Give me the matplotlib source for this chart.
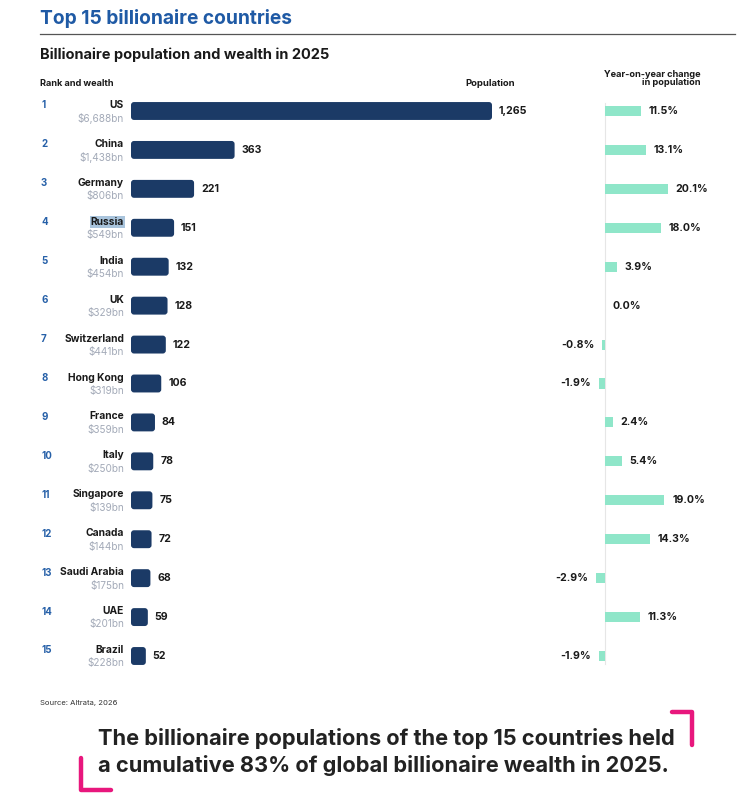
import matplotlib
matplotlib.use("Agg")
import matplotlib.pyplot as plt
import matplotlib.transforms as mtransforms
from matplotlib.patches import FancyBboxPatch
from matplotlib.lines import Line2D

plt.rcParams['font.family'] = ['Inter', 'DejaVu Sans']

# data
countries = ['US', 'China', 'Germany', 'Russia', 'India', 'UK', 'Switzerland',
             'Hong Kong', 'France', 'Italy', 'Singapore', 'Canada',
             'Saudi Arabia', 'UAE', 'Brazil']
wealth = ['$6,688bn', '$1,438bn', '$806bn', '$549bn', '$454bn', '$329bn',
          '$441bn', '$319bn', '$359bn', '$250bn', '$139bn', '$144bn',
          '$175bn', '$201bn', '$228bn']
population = [1265, 363, 221, 151, 132, 128, 122, 106, 84, 78, 75, 72, 68, 59, 52]
yoy_change = [11.5, 13.1, 20.1, 18.0, 3.9, 0.0, -0.8, -1.9, 2.4, 5.4,
              19.0, 14.3, -2.9, 11.3, -1.9]

NAVY = '#1b3a66'
MINT = '#8fe6c9'
BLUE = '#2660a8'
DARK = '#1a1a1a'
GREY = '#a3aab8'
PINK = '#e8177d'

W, H = 753, 800


def fx(x):
    return x / W


def fy(y):
    return 1 - y / H


fig = plt.figure(figsize=(W / 100, H / 100), dpi=100)

# rows: centre of first row at 111px, last at 656px
step = (656 - 111) / 14
top_px = 111 - step / 2
bot_px = 656 + step / 2

# population panel: 0 at 131px, 1265 at 492px
px_per_unit = (492 - 131) / 1265
pop_max = 2000
ax = fig.add_axes([fx(131), fy(bot_px), pop_max * px_per_unit / W,
                   (bot_px - top_px) / H])
# yoy panel: 0 at 605px, 3.13px per %
yoy_scale = 3.13
yoy_lo, yoy_hi = -5, 30
ax2 = fig.add_axes([fx(605 + yoy_lo * yoy_scale), fy(bot_px),
                    (yoy_hi - yoy_lo) * yoy_scale / W, (bot_px - top_px) / H])

rows = list(range(len(countries)))

bars = ax.barh(rows, population, height=0.46, color=NAVY, alpha=0)
ax.bar_label(bars, labels=[f'{v:,}' for v in population], padding=5,
             fontsize=7.6, fontweight='bold', color=DARK)
# rounded versions of the bars
r_px = 3.0
for b in bars:
    rx = r_px / px_per_unit
    aspect = (r_px / step) / rx
    ax.add_patch(FancyBboxPatch((b.get_x(), b.get_y()), b.get_width(), b.get_height(),
                                boxstyle=f'round,pad=0,rounding_size={rx}',
                                mutation_aspect=aspect, fc=NAVY, ec='none'))
ax.set_xlim(0, pop_max)
ax.set_ylim(len(rows) - 0.5, -0.5)
ax.axis('off')

bars2 = ax2.barh(rows, yoy_change, height=0.26, color=MINT)
ax2.bar_label(bars2, labels=[f'{v:.1f}%' for v in yoy_change], padding=5.5,
              fontsize=7.6, fontweight='bold', color=DARK)
ax2.axvline(0, ymin=0.02, ymax=0.98, color='#e6e6e6', lw=0.8, zorder=0)
ax2.set_xlim(yoy_lo, yoy_hi)
ax2.set_ylim(len(rows) - 0.5, -0.5)
ax2.axis('off')

# row labels
trans = mtransforms.blended_transform_factory(fig.transFigure, ax.transData)
for i, (c, w) in enumerate(zip(countries, wealth)):
    ax.annotate(str(i + 1), xy=(fx(41), i), xycoords=trans, xytext=(0, 4),
                textcoords='offset points', ha='left', va='center',
                fontsize=7, fontweight='bold', color=BLUE)
    box = dict(facecolor='#a9c4dc', edgecolor='none', pad=0.6) if c == 'Russia' else None
    ax.annotate(c, xy=(fx(124), i), xycoords=trans, xytext=(0, 4.3),
                textcoords='offset points', ha='right', va='center',
                fontsize=7.4, fontweight='bold', color=DARK, bbox=box)
    ax.annotate(w, xy=(fx(124), i), xycoords=trans, xytext=(0, -5.3),
                textcoords='offset points', ha='right', va='center',
                fontsize=7.2, color=GREY)

# titles and headers
fig.text(fx(40), fy(18), 'Top 15 billionaire countries', fontsize=13.8,
         fontweight='bold', color='#1f5aa5', va='center', ha='left')
fig.add_artist(Line2D([fx(40), fx(735)], [fy(34), fy(34)], color='#555555', lw=0.9))
fig.text(fx(40), fy(55), 'Billionaire population and wealth in 2025', fontsize=10.5,
         fontweight='bold', color=DARK, va='center', ha='left')
fig.text(fx(40), fy(83), 'Rank and wealth', fontsize=6.6, fontweight='bold',
         color=DARK, va='center', ha='left')
fig.text(fx(490), fy(83), 'Population', fontsize=6.8, fontweight='bold',
         color=DARK, va='center', ha='center')
fig.text(fx(701), fy(78.5), 'Year-on-year change\nin population', fontsize=6.6,
         fontweight='bold', color=DARK, va='center', ha='right', linespacing=0.95)

fig.text(fx(40), fy(703), 'Source: Altrata, 2026', fontsize=5.5, color='#333333',
         va='center', ha='left')

fig.text(fx(98), fy(752), 'The billionaire populations of the top 15 countries held\n'
         'a cumulative 83% of global billionaire wealth in 2025.',
         fontsize=15.7, fontweight='bold', color='#222222', va='center', ha='left',
         linespacing=1.3)

# pink corner brackets
fig.add_artist(Line2D([fx(672), fx(692), fx(692)], [fy(712), fy(712), fy(745)],
                      color=PINK, lw=3.2, solid_joinstyle='round', solid_capstyle='round'))
fig.add_artist(Line2D([fx(81), fx(81), fx(111)], [fy(758), fy(790), fy(790)],
                      color=PINK, lw=3.2, solid_joinstyle='round', solid_capstyle='round'))

fig.savefig('out.png', dpi=100, facecolor='white')
